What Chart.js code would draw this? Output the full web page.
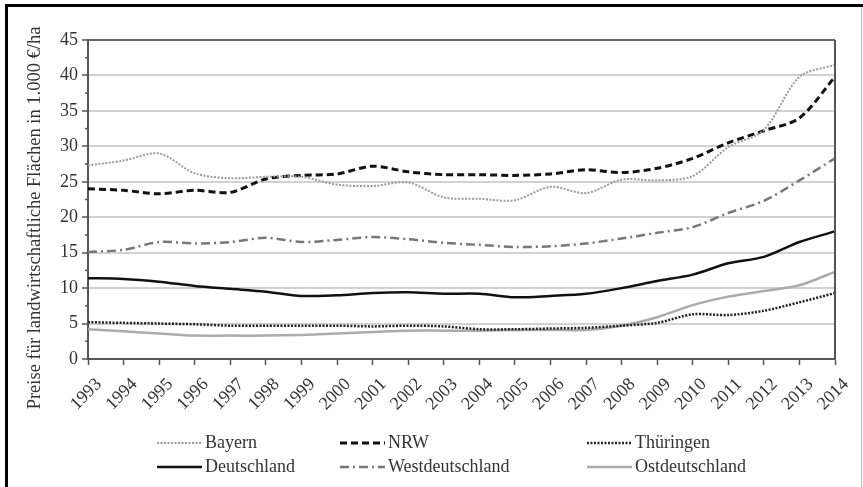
<!DOCTYPE html>
<html><head><meta charset="utf-8">
<script src="https://cdn.jsdelivr.net/npm/chart.js@4"></script>
<style>html,body{margin:0;padding:0;background:#fff}#wrap{width:863px;height:487px;position:relative}</style>
</head><body><div id="wrap"><canvas id="c" width="863" height="487"></canvas></div>
<script>
const years = ['1993','1994','1995','1996','1997','1998','1999','2000','2001','2002','2003','2004','2005','2006','2007','2008','2009','2010','2011','2012','2013','2014'];
const bayern = [27.3, 28.0, 29.0, 26.2, 25.5, 25.7, 25.7, 24.6, 24.4, 24.9, 22.8, 22.6, 22.4, 24.3, 23.4, 25.3, 25.2, 25.8, 29.9, 32.3, 39.8, 41.5];
const nrw = [24.0, 23.8, 23.3, 23.8, 23.5, 25.4, 25.9, 26.1, 27.2, 26.4, 26.0, 26.0, 25.9, 26.1, 26.7, 26.3, 26.9, 28.3, 30.5, 32.2, 34.0, 39.8];
const thueringen = [5.2, 5.1, 5.0, 4.9, 4.7, 4.7, 4.7, 4.7, 4.6, 4.7, 4.6, 4.2, 4.2, 4.3, 4.4, 4.7, 5.1, 6.3, 6.2, 6.8, 8.0, 9.3];
const deutschland = [11.4, 11.3, 10.9, 10.3, 9.9, 9.5, 8.9, 9.0, 9.3, 9.4, 9.2, 9.2, 8.7, 8.9, 9.2, 10.0, 11.0, 11.9, 13.5, 14.4, 16.5, 18.0];
const westdeutschland = [15.1, 15.4, 16.5, 16.3, 16.5, 17.1, 16.5, 16.8, 17.2, 16.9, 16.4, 16.1, 15.8, 15.9, 16.3, 17.0, 17.8, 18.6, 20.6, 22.3, 25.2, 28.3];
const ostdeutschland = [4.2, 3.9, 3.6, 3.3, 3.3, 3.3, 3.4, 3.6, 3.8, 4.0, 4.0, 4.0, 4.1, 4.1, 4.1, 4.7, 5.9, 7.6, 8.8, 9.6, 10.4, 12.3];
const seriesNames = ['Bayern','NRW','Thüringen','Deutschland','Westdeutschland','Ostdeutschland'];
const yTitle = 'Preise für landwirtschaftliche Flächen in 1.000 €/ha';

const FONT = '"Liberation Serif", "Times New Roman", serif';
const styles = [
  {c:'#9a9a9a', w:2, d:[2,1.5]},
  {c:'#111', w:3, d:[7,4]},
  {c:'#222', w:2.5, d:[2,1.5]},
  {c:'#111', w:2.5, d:[]},
  {c:'#777', w:2.5, d:[9,4,2,4]},
  {c:'#ababab', w:2.5, d:[]}
];
const values = [bayern, nrw, thueringen, deutschland, westdeutschland, ostdeutschland];
const datasets = values.map((v,i)=>({
  label: seriesNames[i], data: v, borderColor: styles[i].c, borderWidth: styles[i].w,
  borderDash: styles[i].d, pointRadius: 0, tension: 0.3, fill:false
}));

const legendCols = [157, 340, 587];
const legendRows = [443, 467];

const extras = {
  id:'extras',
  beforeDraw(chart){ const ctx=chart.ctx; ctx.save(); ctx.fillStyle='#fff'; ctx.fillRect(0,0,chart.width,chart.height); ctx.restore(); },
  afterDraw(chart){
    const {ctx, chartArea:a, scales:{y}} = chart;
    ctx.save();
    ctx.strokeStyle='#555'; ctx.lineWidth=2;
    ctx.beginPath(); ctx.moveTo(a.right, a.top); ctx.lineTo(a.right, a.bottom); ctx.stroke();
    ctx.lineWidth=1.5;
    y.ticks.forEach(t=>{ const v=t.value+2.5; if (v<y.max){ const py=y.getPixelForValue(v); ctx.beginPath(); ctx.moveTo(a.left-3,py); ctx.lineTo(a.left,py); ctx.stroke(); }});
    // y title
    ctx.fillStyle='#333'; ctx.font='18.5px '+FONT; ctx.textAlign='center'; ctx.textBaseline='middle';
    ctx.translate(35, 218); ctx.rotate(-Math.PI/2); ctx.fillText(yTitle, 0, 0);
    ctx.setTransform(1,0,0,1,0,0);
    // legend
    chart.data.datasets.forEach((ds,i)=>{
      const x = legendCols[i%3], yy = legendRows[Math.floor(i/3)];
      ctx.strokeStyle = ds.borderColor; ctx.lineWidth = ds.borderWidth; ctx.setLineDash(ds.borderDash);
      ctx.beginPath(); ctx.moveTo(x, yy); ctx.lineTo(x+45, yy); ctx.stroke();
      ctx.setLineDash([]);
      ctx.fillStyle='#333'; ctx.font='18px '+FONT; ctx.textAlign='left'; ctx.textBaseline='middle';
      ctx.fillText(ds.label, x+48, yy);
    });
    // outer frame
    ctx.fillStyle='#000'; ctx.fillRect(5,4,858,3); ctx.fillRect(5,4,3,483);
    ctx.fillStyle='#bbb'; ctx.fillRect(861,7,1,480);
    ctx.restore();
  }
};

new Chart(document.getElementById('c'), {
  type:'line',
  data:{labels: years, datasets},
  options:{
    responsive:false, animation:false,
    layout:{padding:{top:40, right:28, left:0, bottom:0}},
    plugins:{legend:{display:false}, tooltip:{enabled:false}},
    scales:{
      x:{
        offset:false,
        afterFit(s){ s.height = 128; },
        grid:{drawOnChartArea:false, drawTicks:true, tickLength:6, tickColor:'#555', tickWidth:1.5},
        border:{color:'#555', width:2},
        ticks:{autoSkip:false, maxRotation:45, minRotation:45, color:'#333', font:{family:FONT, size:18}, labelOffset:11, padding:9}
      },
      y:{
        min:0, max:45,
        afterFit(s){ s.width = 88; },
        grid:{color:(c)=> c.tick.value===45 ? '#666' : (c.tick.value===0 ? 'rgba(0,0,0,0)' : '#d2d2d2'), lineWidth:2, tickLength:6, tickColor:'#555', tickWidth:1.5},
        border:{color:'#555', width:2},
        ticks:{stepSize:5, color:'#333', font:{family:FONT, size:18}, padding:4}
      }
    }
  },
  plugins:[extras]
});
</script>
</body></html>
